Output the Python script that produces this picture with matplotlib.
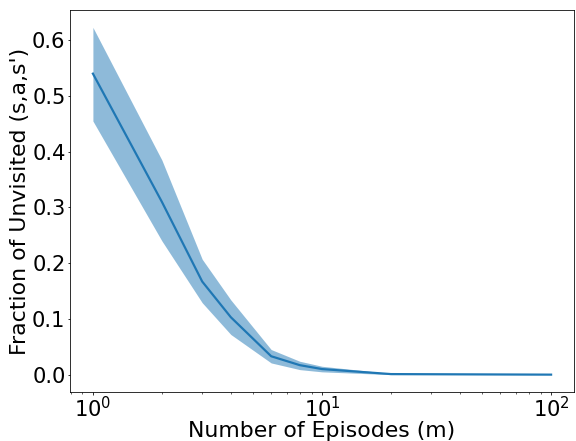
import matplotlib
matplotlib.use("Agg")
import matplotlib.pyplot as plt
import numpy as np

# Number of episodes and the fraction of unvisited (s,a,s') transitions
episodes = [1, 2, 3, 4, 6, 8, 10, 20, 100]
frac_mean = [0.540, 0.310, 0.167, 0.103, 0.033, 0.017, 0.010, 0.001, 0.000]
frac_upper = [0.623, 0.385, 0.207, 0.134, 0.045, 0.024, 0.015, 0.002, 0.000]
frac_lower = [0.455, 0.240, 0.129, 0.072, 0.021, 0.009, 0.005, 0.000, 0.000]

fig = plt.figure(figsize=(8, 6.125), dpi=72)
ax = fig.add_axes([70 / 576, 1 - 392 / 441, 504 / 576, 382 / 441])

ax.plot(episodes, frac_mean, color="#1f77b4", linewidth=2.2)
ax.fill_between(episodes, frac_lower, frac_upper, color="#1f77b4", alpha=0.5, linewidth=0)
ax.set_xscale("log")

ax.set_xlabel("Number of Episodes (m)", fontsize=22, labelpad=-1)
ax.set_ylabel("Fraction of Unvisited (s,a,s')", fontsize=22, labelpad=2)
ax.tick_params(axis="both", which="major", labelsize=21, length=2.5, pad=2)
ax.tick_params(axis="both", which="minor", length=1.5)
ax.set_yticks([0.0, 0.1, 0.2, 0.3, 0.4, 0.5, 0.6])

fig.savefig("out.png", dpi=72)
